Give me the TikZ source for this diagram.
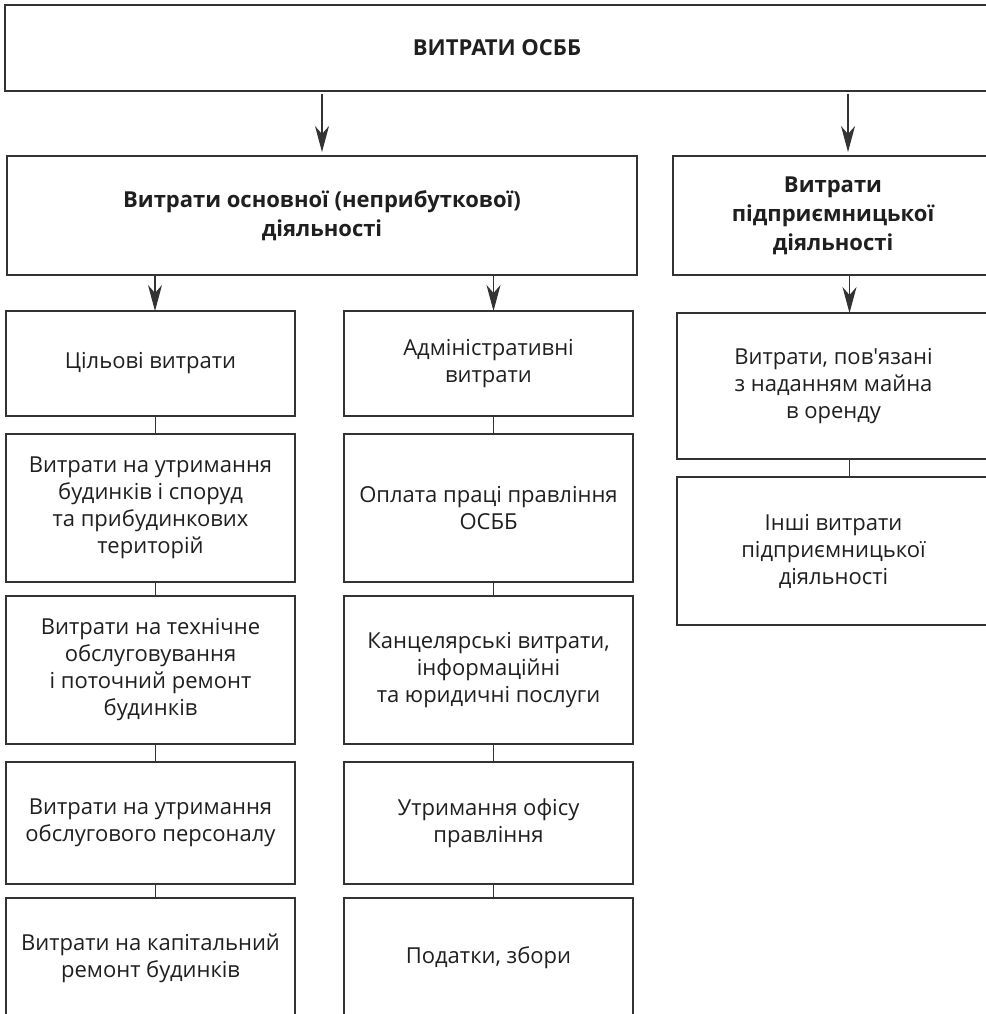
\documentclass[tikz,border=0pt]{standalone}
\usepackage{fontspec}
\setmainfont{Open Sans}
\usetikzlibrary{arrows.meta}
\definecolor{linegray}{HTML}{333333}
\begin{document}
\begin{tikzpicture}[
        x=1pt, y=-1pt,
        font=\fontsize{22}{27}\selectfont,
        box/.style={
            rectangle, draw=linegray, line width=1.4pt,
            inner sep=0pt, outer sep=0pt, align=center, text=black!88
        },
        head/.style={box, font=\bfseries\fontsize{22}{29}\selectfont},
        arr/.style={-{Stealth[length=26pt,width=14pt,inset=8pt]}, draw=linegray, line width=1.1pt},
        link/.style={draw=linegray, line width=1pt}
    ]
        \useasboundingbox (0,0) rectangle (985,1014);

        % Verkhnii riven
        \node[head, minimum width=984pt, minimum height=86pt] (total) at (497,48) {ВИТРАТИ ОСББ};

        % Dva vydy diialnosti
        \node[head, minimum width=630pt, minimum height=119pt] (osn) at (322,215.5) {
            Витрати основної (неприбуткової)\\
            діяльності
        };
        \node[head, minimum width=320pt, minimum height=119pt] (pidpr) at (833,215.5) {
            Витрати\\
            підприємницької\\
            діяльності
        };

        % Stovpets 1: tsilovi vytraty
        \node[box, minimum width=289pt, minimum height=105pt] (tsil) at (150.5,363.5) {Цільові витрати};
        \node[box, minimum width=289pt, minimum height=148pt] (budynky) at (150.5,508) {
            Витрати на утримання\\
            будинків і споруд\\
            та прибудинкових\\
            територій
        };
        \node[box, minimum width=289pt, minimum height=148pt] (remont) at (150.5,670) {
            Витрати на технічне\\
            обслуговування\\
            і поточний ремонт\\
            будинків
        };
        \node[box, minimum width=289pt, minimum height=122pt] (personal) at (150.5,823) {
            Витрати на утримання\\
            обслугового персоналу
        };
        \node[box, minimum width=289pt, minimum height=120pt] (kapremont) at (150.5,958) {
            Витрати на капітальний\\
            ремонт будинків
        };

        % Stovpets 2: administratyvni vytraty
        \node[box, minimum width=289pt, minimum height=105pt] (admin) at (488.5,363.5) {
            Адміністративні\\
            витрати
        };
        \node[box, minimum width=289pt, minimum height=148pt] (oplata) at (488.5,508) {
            Оплата праці правління\\
            ОСББ
        };
        \node[box, minimum width=289pt, minimum height=148pt] (kants) at (488.5,670) {
            Канцелярські витрати,\\
            інформаційні\\
            та юридичні послуги
        };
        \node[box, minimum width=289pt, minimum height=122pt] (ofis) at (488.5,823) {
            Утримання офісу\\
            правління
        };
        \node[box, minimum width=289pt, minimum height=120pt] (podatky) at (488.5,958) {Податки, збори};

        % Stovpets 3: pidpryiemnytska diialnist
        \node[box, minimum width=313pt, minimum height=146pt] (orenda) at (833.5,386) {
            Витрати, пов\textquotesingle язані\\
            з наданням майна\\
            в оренду
        };
        \node[box, minimum width=313pt, minimum height=148pt] (inshi) at (833.5,551) {
            Інші витрати\\
            підприємницької\\
            діяльності
        };

        % Strilky
        \draw[arr] ([yshift=-3pt]total.south -| osn.north) -- ([yshift=4pt]osn.north);
        \draw[arr] ([shift={(15pt,-3pt)}]total.south -| pidpr.north) -- ([shift={(15pt,4pt)}]pidpr.north);
        \draw[arr] ([xshift=4.5pt]osn.south -| tsil.north) -- ([xshift=4.5pt]tsil.north);
        \draw[arr] ([xshift=5pt]osn.south -| admin.north) -- ([xshift=5pt]admin.north);
        \draw[arr] ([xshift=16pt]pidpr.south -| orenda.north) -- ([xshift=16pt]orenda.north);

        % Zviazky v stovptsiakh
        \draw[link] ([xshift=4.5pt]tsil.south) -- ([xshift=4.5pt]budynky.north);
        \draw[link] ([xshift=4.5pt]budynky.south) -- ([xshift=4.5pt]remont.north);
        \draw[link] ([xshift=4.5pt]remont.south) -- ([xshift=4.5pt]personal.north);
        \draw[link] ([xshift=4.5pt]personal.south) -- ([xshift=4.5pt]kapremont.north);
        \draw[link] ([xshift=5pt]admin.south) -- ([xshift=5pt]oplata.north);
        \draw[link] ([xshift=5pt]oplata.south) -- ([xshift=5pt]kants.north);
        \draw[link] ([xshift=5pt]kants.south) -- ([xshift=5pt]ofis.north);
        \draw[link] ([xshift=5pt]ofis.south) -- ([xshift=5pt]podatky.north);
        \draw[link] ([xshift=16pt]orenda.south) -- ([xshift=16pt]inshi.north);

    \end{tikzpicture}
\end{document}
